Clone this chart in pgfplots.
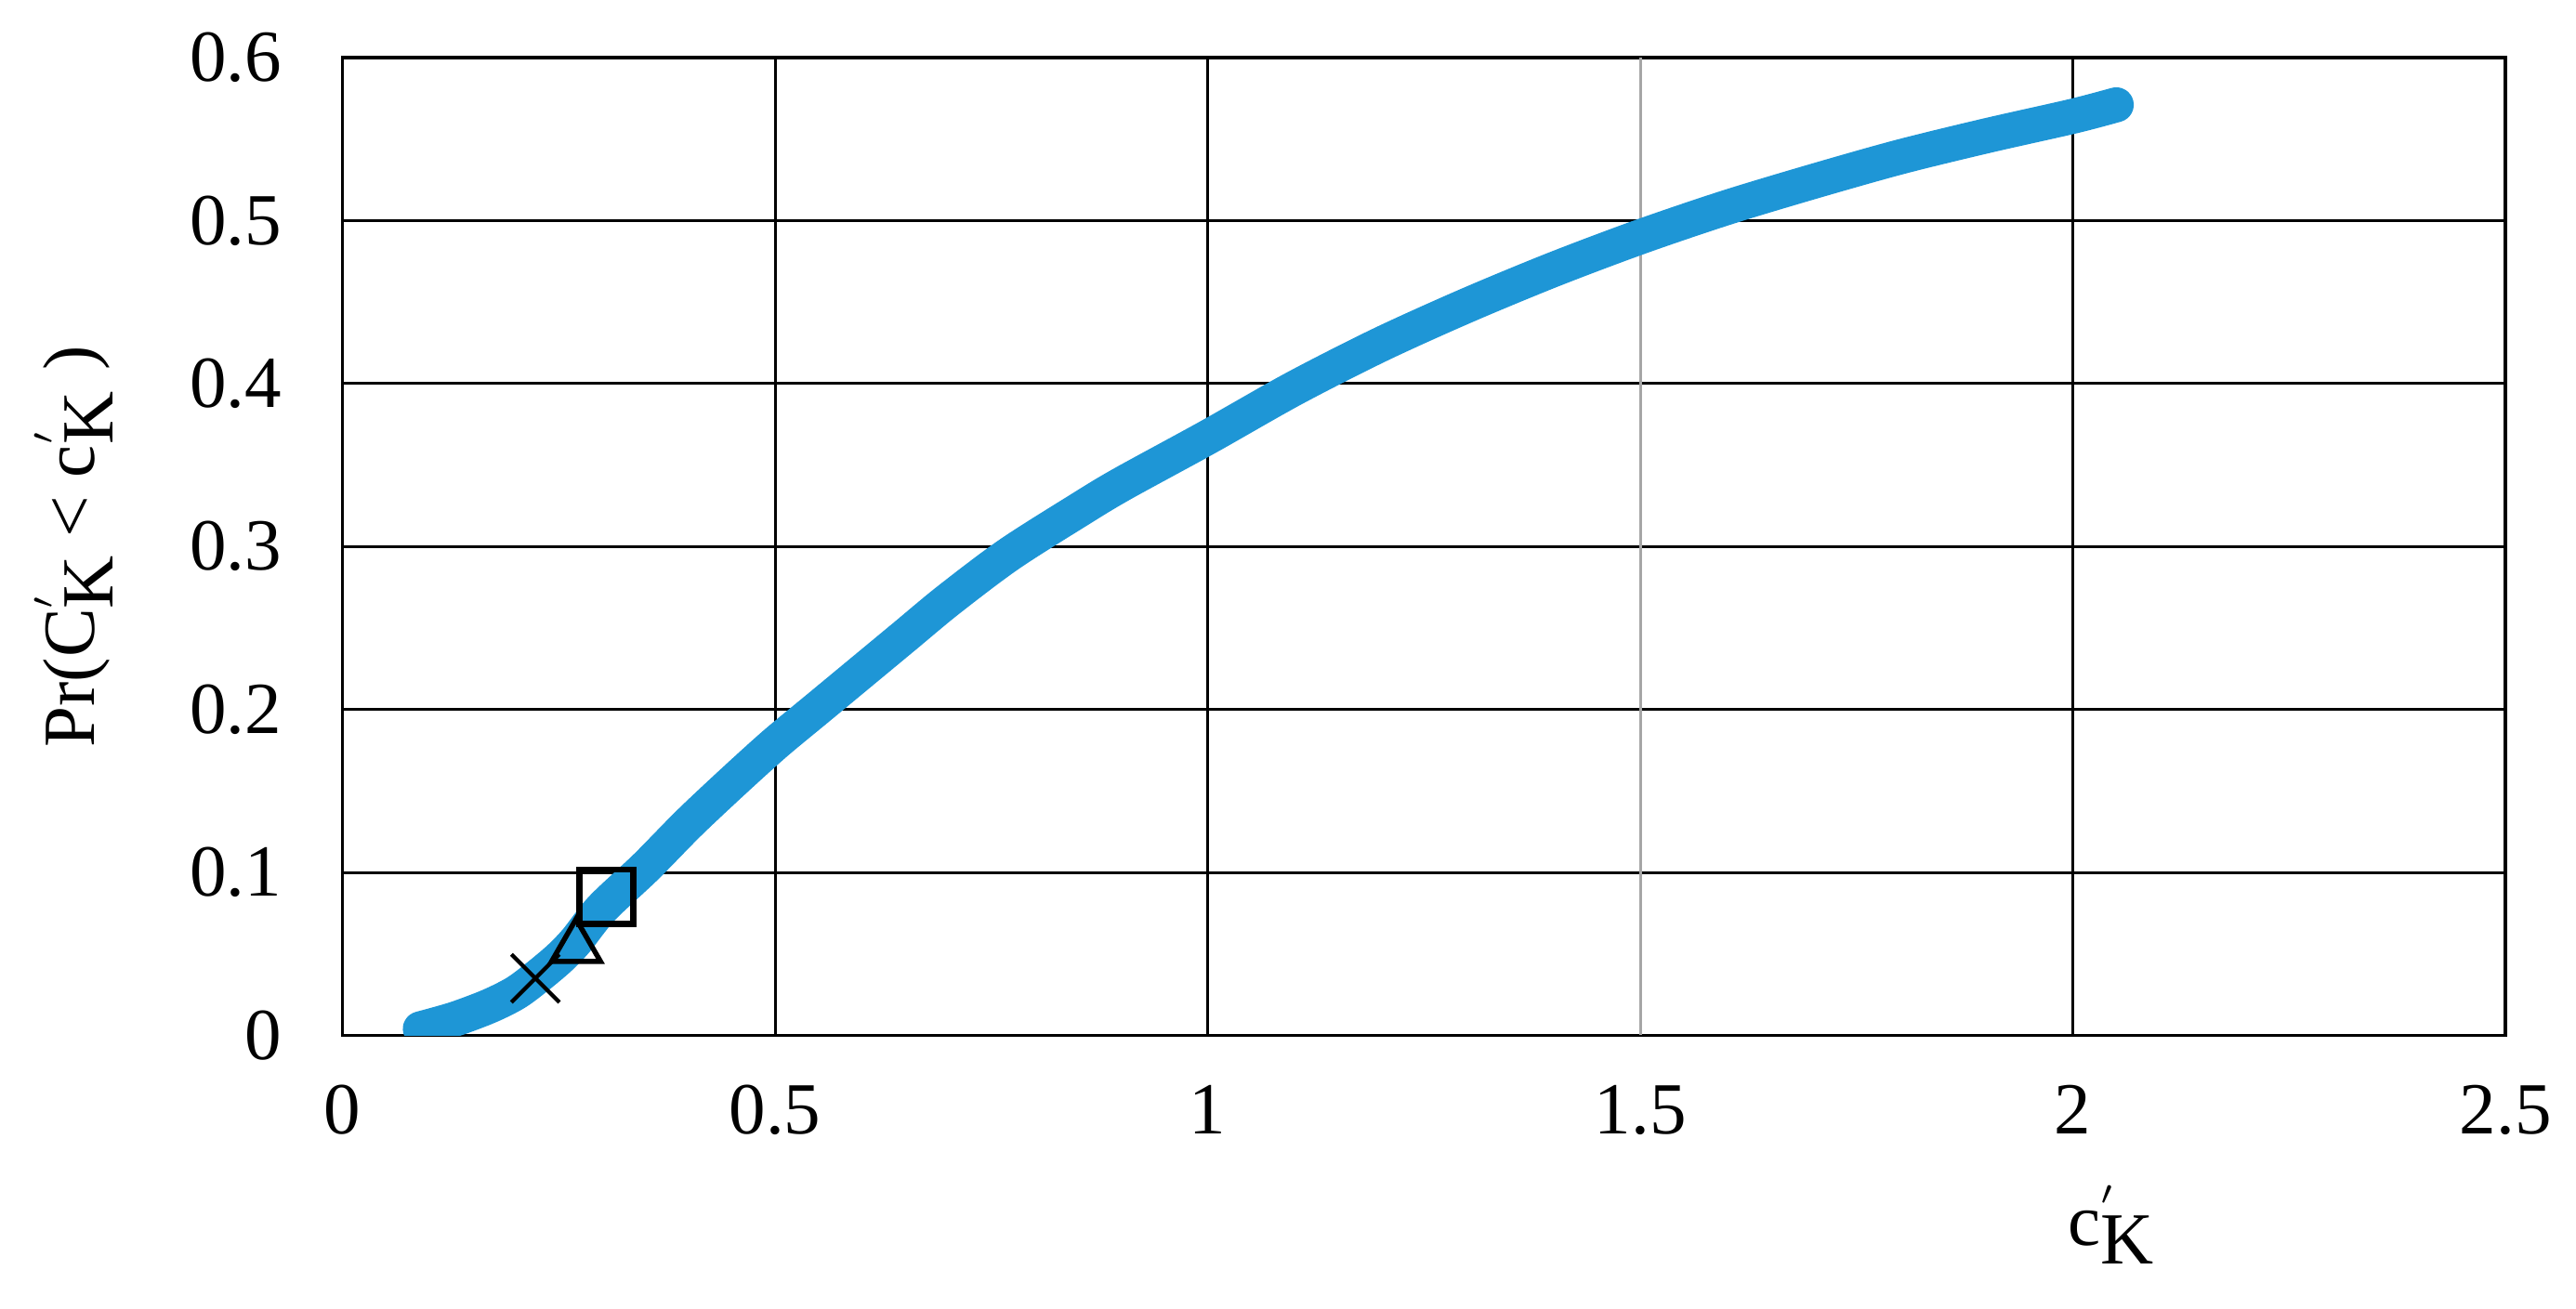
\documentclass[border=0pt]{standalone}
\usepackage{fontspec}
\setmainfont{Liberation Serif}
\usepackage{pgfplots}
\pgfplotsset{compat=1.18}
\definecolor{cdfblue}{HTML}{1E96D6}

\begin{document}
\fontsize{13}{15}\selectfont
\begin{tikzpicture}
\begin{axis}[
  name=ax,
  scale only axis,
  width=13.455cm, height=6.084cm,
  xmin=0, xmax=2.5, ymin=0, ymax=0.6,
  xtick={0,0.5,1,2,2.5},
  extra x ticks={1.5},
  extra x tick style={grid style={black!35, line width=0.5pt}},
  ytick={0,0.1,0.2,0.3,0.4,0.5,0.6},
  grid=major,
  grid style={black, line width=0.5pt},
  axis line style={black, line width=0.6pt},
  major tick length=0pt,
  /pgf/number format/assume math mode=true,
  /pgf/number format/fixed,
  tick label style={font=\fontsize{13}{15}\selectfont},
  yticklabel style={xshift=-0.22cm},
  xticklabel style={yshift=-0.15cm},
]
% CDF
\addplot[cdfblue, line width=6.2pt, line cap=round, line join=round, smooth, tension=0.5] coordinates {
  (0.09,0.004) (0.13,0.010) (0.17,0.018) (0.20,0.026) (0.223,0.035)
  (0.25,0.047) (0.27,0.058) (0.30,0.078) (0.35,0.103) (0.40,0.130)
  (0.45,0.155) (0.50,0.179) (0.55,0.201) (0.60,0.223) (0.65,0.245)
  (0.70,0.267) (0.77,0.295) (0.85,0.322) (0.90,0.338) (1.00,0.367)
  (1.10,0.397) (1.20,0.424) (1.30,0.448) (1.40,0.470) (1.50,0.490)
  (1.60,0.508) (1.70,0.524) (1.80,0.539) (1.90,0.552) (2.00,0.564)
  (2.05,0.571)
};
\addplot[only marks, mark=x, mark size=6pt, black, mark options={line width=0.7pt}]
  coordinates {(0.223,0.035)};
\addplot[only marks, mark=triangle, mark size=5pt, black, mark options={line width=0.9pt}]
  coordinates {(0.270,0.054)};
\addplot[only marks, mark=square, mark size=4.8pt, black, mark options={line width=1.1pt}]
  coordinates {(0.305,0.085)};
\end{axis}

\node[rotate=90] at ([xshift=-1.67cm]ax.west)
  {Pr(C\rlap{\raisebox{0.75ex}{\footnotesize$'$}}\raisebox{-0.55ex}{K}\ <\ c\rlap{\raisebox{0.75ex}{\footnotesize$'$}}\raisebox{-0.55ex}{K}\kern0.3em)};
\node at ([xshift=11.0cm,yshift=-1.18cm]ax.south west)
  {c\rlap{\raisebox{0.75ex}{\footnotesize$'$}}\raisebox{-0.55ex}{K}};

% keep the reference's margins
\path ([xshift=-2.13cm,yshift=-1.70cm]ax.south west) rectangle ([xshift=0.415cm,yshift=0.358cm]ax.north east);
\end{tikzpicture}
\end{document}
